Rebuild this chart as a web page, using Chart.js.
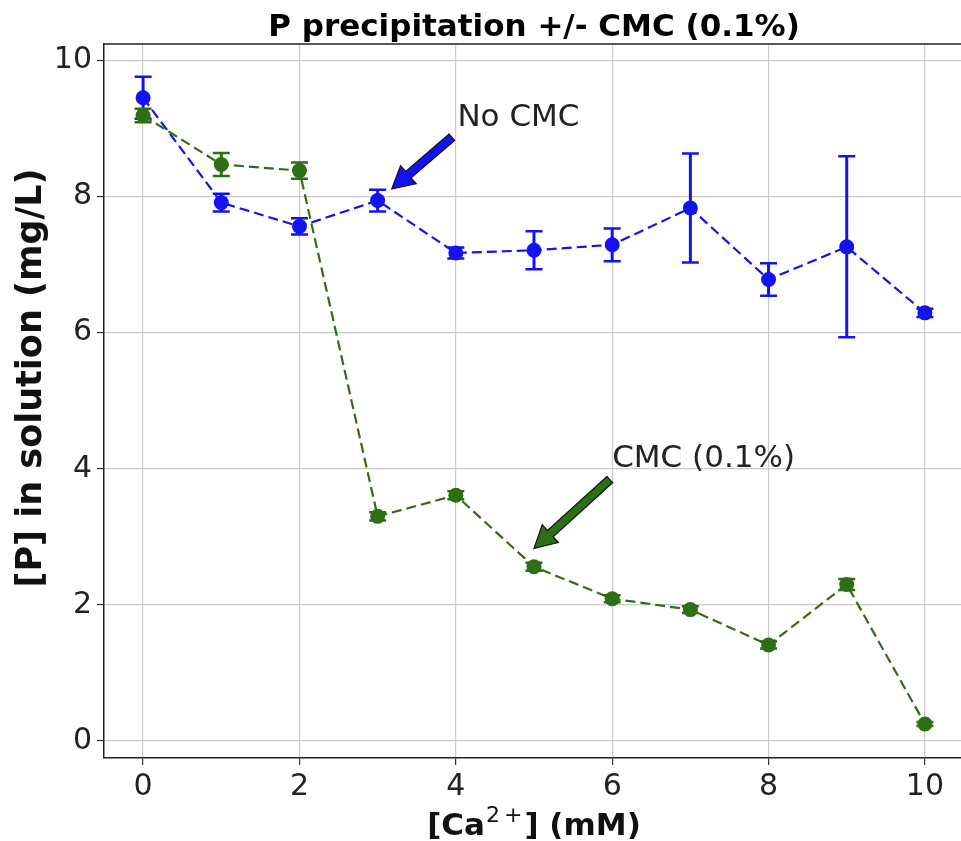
<!DOCTYPE html>
<html>
<head>
<meta charset="utf-8">
<script src="https://cdn.jsdelivr.net/npm/chart.js@4.4.1/dist/chart.umd.min.js"></script>
<style>
  html, body { margin: 0; padding: 0; background: #fff; overflow: hidden; width: 961px; height: 841px; }
  #wrap { position: relative; width: 1000px; height: 841px; }
</style>
</head>
<body>
<div id="wrap"><canvas id="c" width="1000" height="841"></canvas></div>
<script>
// Calcium concentration (mM)
const calcium = [0, 1, 2, 3, 4, 5, 6, 7, 8, 9, 10];

// Dissolved phosphorus (mg/L) without CMC, with standard deviation
const noCmc    = [9.45, 7.91, 7.56, 7.94, 7.17, 7.21, 7.29, 7.83, 6.78, 7.26, 6.29];
const noCmcErr = [0.31, 0.13, 0.12, 0.16, 0.08, 0.28, 0.24, 0.80, 0.24, 1.33, 0.06];

// Dissolved phosphorus (mg/L) with 0.1% CMC, with standard deviation
const cmc    = [9.19, 8.47, 8.38, 3.30, 3.61, 2.56, 2.09, 1.93, 1.41, 2.30, 0.25];
const cmcErr = [0.10, 0.17, 0.12, 0.06, 0.06, 0.06, 0.05, 0.05, 0.05, 0.08, 0.03];

const xTicks = [0, 2, 4, 6, 8, 10];
const yTicks = [0, 2, 4, 6, 8, 10];

const titleText = 'P precipitation +/- CMC (0.1%)';
// x-axis title pieces: base text, superscript charge, closing text
const xTitleParts = ['[Ca', '2', '+', '] (mM)'];
const yTitle = '[P] in solution (mg/L)';

const BLUE = '#1212f2';
const GREEN = '#2f6f14';

// Labelled arrows, in data coordinates
const notes = [
  { text: 'No CMC',     textAt: [4.02, 9.04], from: [3.95, 8.87], to: [3.18, 8.11], fill: BLUE },
  { text: 'CMC (0.1%)', textAt: [6.00, 4.02], from: [5.97, 3.84], to: [5.00, 2.83], fill: GREEN }
];

const series = [
  { label: 'CMC (0.1%)', values: cmc,   errors: cmcErr,   color: GREEN },
  { label: 'No CMC',     values: noCmc, errors: noCmcErr, color: BLUE }
];

const FONT = "'DejaVu Sans', sans-serif";

const errorBars = {
  id: 'errorBars',
  beforeDatasetsDraw(chart) {
    const { ctx, scales: { x, y } } = chart;
    ctx.save();
    ctx.beginPath();
    ctx.rect(chart.chartArea.left, chart.chartArea.top, chart.chartArea.width, chart.chartArea.height);
    ctx.clip();
    // draw the no-CMC bars first so the CMC ones sit above them
    [...series].reverse().forEach(s => {
      ctx.strokeStyle = s.color;
      s.values.forEach((v, i) => {
        const px = x.getPixelForValue(calcium[i]);
        const yt = y.getPixelForValue(v + s.errors[i]);
        const yb = y.getPixelForValue(v - s.errors[i]);
        ctx.lineWidth = 3;
        ctx.beginPath();
        ctx.moveTo(px, yt); ctx.lineTo(px, yb);
        ctx.stroke();
        ctx.lineWidth = 2.5;
        ctx.beginPath();
        ctx.moveTo(px - 8.5, yt); ctx.lineTo(px + 8.5, yt);
        ctx.moveTo(px - 8.5, yb); ctx.lineTo(px + 8.5, yb);
        ctx.stroke();
      });
    });
    ctx.restore();
  }
};

const decorations = {
  id: 'decorations',
  afterDraw(chart) {
    const { ctx, chartArea: a, scales: { x, y } } = chart;
    ctx.save();

    // top spine
    ctx.strokeStyle = '#222';
    ctx.lineWidth = 1.5;
    ctx.beginPath();
    ctx.moveTo(a.left, a.top); ctx.lineTo(a.right, a.top);
    ctx.stroke();

    // arrows with labels
    notes.forEach(n => {
      const tx = x.getPixelForValue(n.from[0]), ty = y.getPixelForValue(n.from[1]);
      const hx = x.getPixelForValue(n.to[0]),   hy = y.getPixelForValue(n.to[1]);
      const len = Math.hypot(hx - tx, hy - ty);
      const dx = (hx - tx) / len, dy = (hy - ty) / len;
      const nx = -dy, ny = dx;
      const headLen = 22, headHalf = 12, shaftHalf = 4.2;
      const bx = hx - dx * headLen, by = hy - dy * headLen;
      ctx.beginPath();
      ctx.moveTo(tx + nx * shaftHalf, ty + ny * shaftHalf);
      ctx.lineTo(bx + nx * shaftHalf, by + ny * shaftHalf);
      ctx.lineTo(bx + nx * headHalf, by + ny * headHalf);
      ctx.lineTo(hx, hy);
      ctx.lineTo(bx - nx * headHalf, by - ny * headHalf);
      ctx.lineTo(bx - nx * shaftHalf, by - ny * shaftHalf);
      ctx.lineTo(tx - nx * shaftHalf, ty - ny * shaftHalf);
      ctx.closePath();
      ctx.fillStyle = n.fill;
      ctx.fill();
      ctx.strokeStyle = '#111';
      ctx.lineWidth = 1.2;
      ctx.stroke();

      ctx.fillStyle = '#222';
      ctx.font = `31px ${FONT}`;
      ctx.textAlign = 'left';
      ctx.textBaseline = 'alphabetic';
      ctx.fillText(n.text, x.getPixelForValue(n.textAt[0]), y.getPixelForValue(n.textAt[1]));
    });

    const cx = (a.left + a.right) / 2;

    // chart title
    ctx.fillStyle = '#000';
    ctx.textAlign = 'center';
    ctx.textBaseline = 'alphabetic';
    ctx.font = `bold 31px ${FONT}`;
    ctx.fillText(titleText, cx, 36);

    // x-axis title with superscript charge
    ctx.fillStyle = '#111';
    ctx.textAlign = 'left';
    const bigFont = `bold 31px ${FONT}`;
    const supFont = `22px ${FONT}`;
    ctx.font = bigFont;
    const w0 = ctx.measureText(xTitleParts[0]).width;
    const w3 = ctx.measureText(xTitleParts[3]).width;
    ctx.font = supFont;
    const w1 = ctx.measureText(xTitleParts[1]).width;
    const w2 = ctx.measureText(xTitleParts[2]).width;
    const gap = 4;
    const total = w0 + 1 + w1 + gap + w2 + 2 + w3;
    let px = cx - total / 2;
    const base = 835;
    ctx.font = bigFont;
    ctx.fillText(xTitleParts[0], px, base); px += w0 + 1;
    ctx.font = supFont;
    ctx.fillText(xTitleParts[1], px, base - 13); px += w1 + gap;
    ctx.fillText(xTitleParts[2], px, base - 13); px += w2 + 2;
    ctx.font = bigFont;
    ctx.fillText(xTitleParts[3], px, base);

    // y-axis title
    ctx.textAlign = 'center';
    ctx.font = `bold 35px ${FONT}`;
    ctx.save();
    ctx.translate(41, 378);
    ctx.rotate(-Math.PI / 2);
    ctx.fillText(yTitle, 0, 0);
    ctx.restore();

    ctx.restore();
  }
};

const gridOpts = { color: '#cbcbcb', lineWidth: 1.2, tickColor: '#333', tickLength: 7, drawTicks: true };
const borderOpts = { color: '#222', width: 1.5 };
const tickFont = { family: FONT, size: 30 };

new Chart(document.getElementById('c'), {
  type: 'line',
  data: {
    datasets: series.map(s => ({
      label: s.label,
      data: calcium.map((c, i) => ({ x: c, y: s.values[i] })),
      borderColor: s.color,
      backgroundColor: s.color,
      borderWidth: 2.2,
      borderDash: [10, 5],
      pointRadius: 7.5,
      pointBorderWidth: 0,
      pointBackgroundColor: s.color,
      tension: 0,
      fill: false
    }))
  },
  options: {
    responsive: false,
    animation: false,
    devicePixelRatio: 1,
    layout: { padding: { top: 44, right: 36, left: 0, bottom: 0 } },
    plugins: { legend: { display: false }, tooltip: { enabled: false }, title: { display: false } },
    scales: {
      x: {
        type: 'linear', position: 'bottom', min: -0.5, max: 10.5,
        afterBuildTicks: s => { s.ticks = xTicks.map(v => ({ value: v })); },
        afterFit: s => { s.height = 83; },
        grid: gridOpts, border: borderOpts,
        ticks: { font: tickFont, color: '#222', padding: 4, maxRotation: 0, autoSkip: false }
      },
      y: {
        type: 'linear', min: -0.25, max: 10.24,
        afterBuildTicks: s => { s.ticks = yTicks.map(v => ({ value: v })); },
        afterFit: s => { s.width = 104; },
        grid: gridOpts, border: borderOpts,
        ticks: { font: tickFont, color: '#222', padding: 5, autoSkip: false }
      }
    }
  },
  plugins: [errorBars, decorations]
});
</script>
</body>
</html>
